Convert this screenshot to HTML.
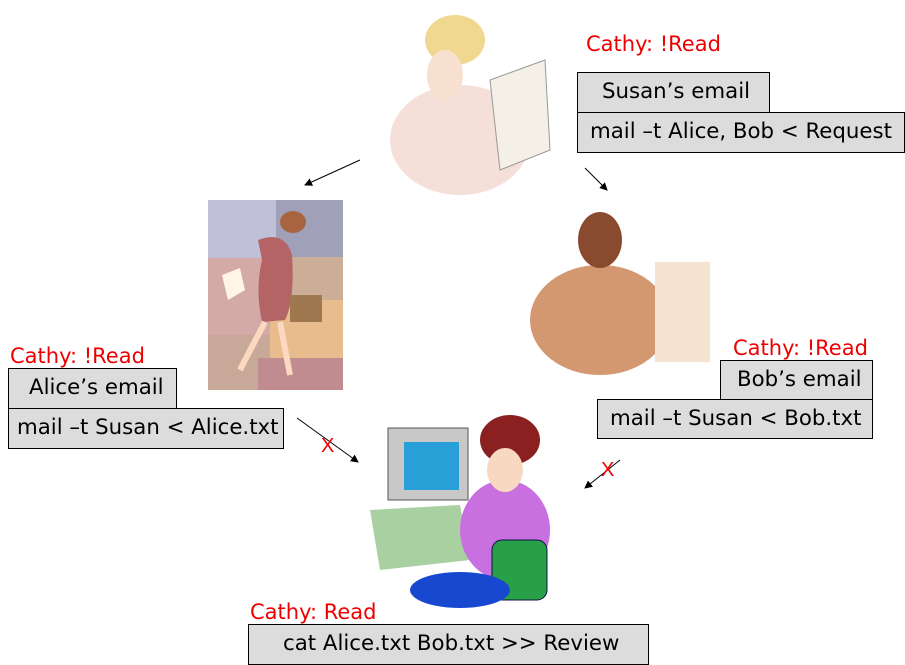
<!DOCTYPE html>
<html><head><meta charset="utf-8"><style>
body{margin:0;width:905px;height:665px;background:#fff;position:relative;overflow:hidden;font-family:"DejaVu Sans","Liberation Sans",sans-serif}
.r{position:absolute;color:#e00;font-size:21px;white-space:nowrap}
.b{position:absolute;background:#dcdcdc;border:1px solid #000;box-sizing:border-box;font-size:21.3px;line-height:38px;padding-left:12px;white-space:nowrap;color:#000}
svg{position:absolute;left:0;top:0}
</style></head><body>
<svg width="905" height="665">
<defs><marker id="a" markerWidth="8" markerHeight="8" refX="7" refY="4" orient="auto"><path d="M0,0L8,4L0,8z" fill="#000"/></marker></defs>
<rect x="208" y="200" width="68" height="58" fill="#c0c0d8"/>
<rect x="276" y="200" width="67" height="57" fill="#a0a0b8"/>
<rect x="208" y="258" width="68" height="77" fill="#d4aaa8"/>
<rect x="276" y="257" width="67" height="43" fill="#ccae98"/>
<rect x="270" y="300" width="73" height="58" fill="#e8bc8c"/>
<rect x="208" y="335" width="62" height="55" fill="#c8a898"/>
<rect x="258" y="358" width="85" height="32" fill="#c08c90"/>
<path d="M258,240 Q285,230 292,255 Q295,300 285,320 L262,322 Q255,290 262,260z" fill="#b46464"/>
<ellipse cx="293" cy="222" rx="13" ry="11" fill="#a86440"/>
<rect x="290" y="295" width="32" height="27" fill="#a07850"/>
<path d="M222,275 L240,268 L245,290 L228,300z" fill="#fff4e8"/>
<path d="M265,322 L245,360 L240,370 M280,322 L290,375" stroke="#fcd8c0" stroke-width="6" fill="none"/>
<ellipse cx="460" cy="140" rx="70" ry="55" fill="#f4e0d8"/>
<ellipse cx="455" cy="40" rx="30" ry="25" fill="#f0d890"/>
<ellipse cx="445" cy="75" rx="18" ry="25" fill="#f8e0d0"/>
<path d="M490,80 L545,60 L550,150 L500,170z" fill="#f4f0e8" stroke="#999"/>
<ellipse cx="600" cy="320" rx="70" ry="55" fill="#d49870"/>
<ellipse cx="600" cy="240" rx="22" ry="28" fill="#8a4a30"/>
<rect x="655" y="262" width="55" height="100" fill="#f4e4d0"/>
<rect x="388" y="428" width="80" height="72" fill="#c8c8c8" stroke="#555"/>
<rect x="404" y="442" width="55" height="48" fill="#2aa0d8"/>
<path d="M370,510 L460,505 L470,560 L380,570z" fill="#a8d0a0"/>
<ellipse cx="505" cy="530" rx="45" ry="50" fill="#c870e0"/>
<ellipse cx="510" cy="440" rx="30" ry="25" fill="#8a2020"/>
<ellipse cx="505" cy="470" rx="18" ry="22" fill="#f8d8c0"/>
<rect x="492" y="540" width="55" height="60" rx="10" fill="#28a048" stroke="#114" />
<ellipse cx="460" cy="590" rx="50" ry="18" fill="#1848d0"/>
<g stroke="#000" stroke-width="1" marker-end="url(#a)">
<line x1="360" y1="160" x2="305" y2="185"/>
<line x1="585" y1="168" x2="607" y2="190"/>
<line x1="297" y1="418" x2="358" y2="462"/>
<line x1="620" y1="460" x2="585" y2="488"/>
</g>
<text x="321" y="452" fill="#e00" font-size="20" font-family="Liberation Sans">X</text>
<text x="601" y="476" fill="#e00" font-size="20" font-family="Liberation Sans">X</text>
</svg>
<div class="r" style="left:586px;top:32px">Cathy: !Read</div>
<div class="b" style="left:577px;top:72px;width:193px;height:41px;padding-left:24px">Susan’s email</div>
<div class="b" style="left:577px;top:112px;width:328px;height:41px">mail –t Alice, Bob &lt; Request</div>
<div class="r" style="left:10px;top:344px">Cathy: !Read</div>
<div class="b" style="left:8px;top:368px;width:169px;height:41px;padding-left:20px">Alice’s email</div>
<div class="b" style="left:8px;top:408px;width:276px;height:41px;padding-left:8px">mail –t Susan &lt; Alice.txt</div>
<div class="r" style="left:733px;top:336px">Cathy: !Read</div>
<div class="b" style="left:720px;top:360px;width:153px;height:41px;padding-left:16px">Bob’s email</div>
<div class="b" style="left:597px;top:399px;width:276px;height:40px">mail –t Susan &lt; Bob.txt</div>
<div class="r" style="left:250px;top:600px">Cathy: Read</div>
<div class="b" style="left:248px;top:624px;width:401px;height:41px;padding-left:34px">cat Alice.txt Bob.txt &gt;&gt; Review</div>
</body></html>
